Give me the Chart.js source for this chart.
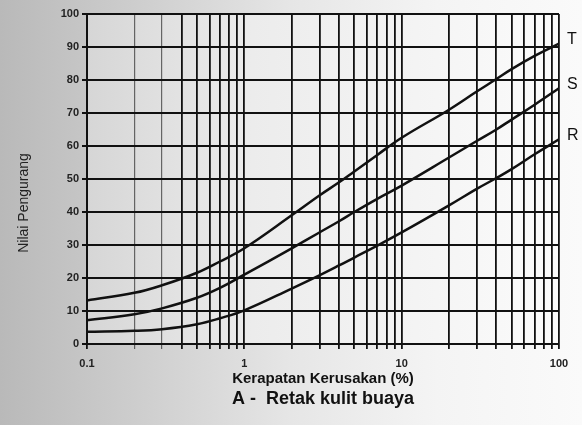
<!DOCTYPE html>
<html>
<head>
<meta charset="utf-8">
<script src="https://cdn.jsdelivr.net/npm/chart.js@4/dist/chart.umd.min.js"></script>
<style>
  html, body { margin: 0; padding: 0; }
  body {
    width: 582px; height: 425px; overflow: hidden;
    background: linear-gradient(90deg, #b9b9b9 0%, #cfcfcf 25%, #e6e6e6 50%, #f4f4f4 75%, #fafafa 100%);
  }
  canvas { display: block; }
</style>
</head>
<body>
<canvas id="dvChart" width="582" height="425"></canvas>
<script>
// kerapatan kerusakan (%), sumbu log
const density = [0.1, 0.2, 0.3, 0.5, 0.7, 1, 2, 3, 4, 5, 7, 10, 20, 30, 40, 50, 70, 100];
// nilai pengurang per tingkat keparahan
const dvHigh = [13.2, 15.5, 17.8, 21.6, 25, 29, 39, 45, 49, 52.3, 57.3, 62.5, 71, 76.5, 80.3, 83.3, 87.3, 91];   // T
const dvMedium = [7.2, 9, 10.8, 14, 17, 21, 29, 33.8, 37.2, 40, 44, 48, 56.5, 61.5, 65, 68, 72.5, 77.5];         // S
const dvLow = [3.7, 4, 4.5, 6, 7.8, 10.2, 16.8, 20.8, 23.8, 26.2, 29.8, 33.8, 42, 47, 50.3, 53, 57.5, 62];       // R
const severityLabels = ['T', 'S', 'R'];

// garis grid kertas log
const xGridTicks = [0.1, 0.2, 0.3, 0.4, 0.5, 0.6, 0.7, 0.8, 0.9,
                    1, 2, 3, 4, 5, 6, 7, 8, 9,
                    10, 20, 30, 40, 50, 60, 70, 80, 90, 100];
const xTickValues = [0.1, 1, 10, 100];
const xTickLabels = ['0.1', '1', '10', '100'];

const xTitle = 'Kerapatan Kerusakan (%)';
const yTitle = 'Nilai Pengurang';
const chartTitle = 'A -  Retak kulit buaya';

function toPoints(ys) {
  return density.map((d, i) => ({ x: d, y: ys[i] }));
}

// latar area plot (abu-abu muda ke putih)
const plotBg = {
  id: 'plotBg',
  beforeDraw(chart) {
    const { ctx, chartArea: a } = chart;
    const g = ctx.createLinearGradient(a.left, 0, a.right, 0);
    g.addColorStop(0, '#d6d6d6');
    g.addColorStop(0.35, '#ececec');
    g.addColorStop(1, '#fbfbfb');
    ctx.save();
    ctx.fillStyle = g;
    ctx.fillRect(a.left, a.top, a.right - a.left, a.bottom - a.top);
    ctx.restore();
  }
};

// label kurva dan judul-judul
const textLabels = {
  id: 'textLabels',
  afterDraw(chart) {
    const { ctx, chartArea: a, scales } = chart;
    ctx.save();
    ctx.fillStyle = '#111';
    ctx.textBaseline = 'middle';

    ctx.font = '16px "Liberation Sans", Arial, sans-serif';
    ctx.textAlign = 'left';
    chart.data.datasets.forEach((ds, i) => {
      const last = ds.data[ds.data.length - 1];
      ctx.fillText(severityLabels[i], a.right + 8, scales.y.getPixelForValue(last.y) - 4);
    });

    const cx = (a.left + a.right) / 2;
    ctx.textAlign = 'center';
    ctx.font = 'bold 15px "Liberation Sans", Arial, sans-serif';
    ctx.fillText(xTitle, cx, a.bottom + 35);
    ctx.font = 'bold 18px "Liberation Sans", Arial, sans-serif';
    ctx.fillText(chartTitle, cx, a.bottom + 55);

    ctx.translate(24, 203);
    ctx.rotate(-Math.PI / 2);
    ctx.font = '14px "Liberation Sans", Arial, sans-serif';
    ctx.fillStyle = '#222';
    ctx.fillText(yTitle, 0, 0);
    ctx.restore();
  }
};

const lineStyle = {
  borderColor: '#111',
  borderWidth: 2.5,
  pointRadius: 0,
  fill: false,
  tension: 0.4
};

new Chart(document.getElementById('dvChart'), {
  type: 'line',
  data: {
    datasets: [
      Object.assign({ label: severityLabels[0], data: toPoints(dvHigh) }, lineStyle),
      Object.assign({ label: severityLabels[1], data: toPoints(dvMedium) }, lineStyle),
      Object.assign({ label: severityLabels[2], data: toPoints(dvLow) }, lineStyle)
    ]
  },
  options: {
    responsive: false,
    animation: false,
    layout: { padding: { top: 14, right: 23, left: 0, bottom: 0 } },
    plugins: {
      legend: { display: false },
      tooltip: { enabled: false }
    },
    scales: {
      x: {
        type: 'logarithmic',
        min: 0.1,
        max: 100,
        afterBuildTicks: s => { s.ticks = xGridTicks.map(v => ({ value: v })); },
        afterFit: s => { s.height = 81; },
        ticks: {
          autoSkip: false,
          maxRotation: 0,
          padding: 8,
          color: '#222',
          font: { family: '"Liberation Sans", Arial, sans-serif', size: 11, weight: 'bold' },
          callback: v => {
            const i = xTickValues.findIndex(t => Math.abs(t - v) < 1e-9);
            return i >= 0 ? xTickLabels[i] : '';
          }
        },
        grid: {
          color: ctx => (ctx.tick && (ctx.tick.value === 0.2 || ctx.tick.value === 0.3)) ? 'rgba(0,0,0,0.55)' : '#111',
          lineWidth: ctx => (ctx.tick && (ctx.tick.value === 0.2 || ctx.tick.value === 0.3)) ? 1.2 : 1.8,
          tickLength: 5
        },
        border: { color: '#111', width: 2 }
      },
      y: {
        min: 0,
        max: 100,
        afterFit: s => { s.width = 87; },
        ticks: {
          stepSize: 10,
          padding: 3,
          color: '#222',
          font: { family: '"Liberation Sans", Arial, sans-serif', size: 11, weight: 'bold' }
        },
        grid: { color: '#111', lineWidth: 2, tickLength: 5 },
        border: { color: '#111', width: 2 }
      }
    }
  },
  plugins: [plotBg, textLabels]
});
</script>
</body>
</html>
